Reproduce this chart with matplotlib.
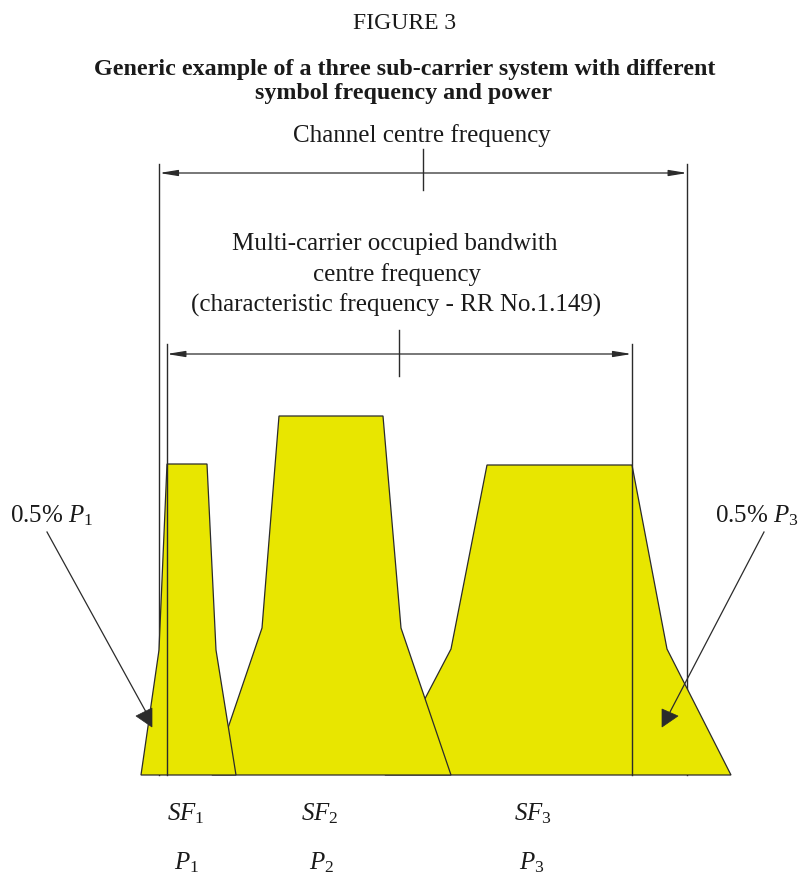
import matplotlib
matplotlib.use("Agg")
import matplotlib.pyplot as plt
from matplotlib.patches import Polygon

plt.rcParams['font.family'] = ['Liberation Serif', 'DejaVu Serif']
plt.rcParams['mathtext.fontset'] = 'custom'
plt.rcParams['mathtext.rm'] = 'Liberation Serif'
plt.rcParams['mathtext.it'] = 'Liberation Serif:italic'

# ---- diagram data (pixel-space units of the drawing) ----
baseline = 776
sf1_x = [141, 159, 167, 207, 216, 236]
sf1_y = [776, 651, 465, 465, 651, 776]
sf2_x = [212, 262, 279, 383, 401, 451]
sf2_y = [776, 629, 417, 417, 629, 776]
sf3_x = [385, 451, 487, 632, 667, 731]
sf3_y = [776, 650, 466, 466, 650, 776]

channel_edges = [159.3, 687.3]
occupied_edges = [166.7, 631.7]
channel_arrow_y = 174
occupied_arrow_y = 355

sf_labels = ['$SF_{\\mathrm{1}}$', '$SF_{\\mathrm{2}}$', '$SF_{\\mathrm{3}}$']
sf_label_x = [186, 320, 533]
p_labels = ['$P_{\\mathrm{1}}$', '$P_{\\mathrm{2}}$', '$P_{\\mathrm{3}}$']
p_label_x = [187, 322, 532]

left_pointer_x = [47, 146]
left_pointer_y = [533, 713]
left_head_x = [136, 152, 152]
left_head_y = [717, 709, 728]
right_pointer_x = [764, 670]
right_pointer_y = [533, 713]
right_head_x = [678, 662, 662]
right_head_y = [717, 710, 728]

yellow = '#e8e600'
ink = '#2b2b2b'

fig = plt.figure(figsize=(7.98, 8.78), dpi=100)
ax = fig.add_axes([0, 0, 1, 1])
ax.set_xlim(0, 798)
ax.set_ylim(878, 0)
ax.axis('off')

# channel boundary lines (behind spectra)
for x in channel_edges:
    ax.plot([x, x], [165, baseline], color=ink, lw=1.0, zorder=1)

# spectra: SF3 bottom, SF1 top
for xs, ys, z in [(sf3_x, sf3_y, 2), (sf2_x, sf2_y, 3), (sf1_x, sf1_y, 4)]:
    ax.add_patch(Polygon(list(zip(xs, ys)), closed=True, facecolor=yellow,
                         edgecolor=ink, lw=0.9, zorder=z))

# occupied bandwidth lines (on top)
for x in occupied_edges:
    ax.plot([x, x], [345, baseline], color=ink, lw=1.0, zorder=6)

# double arrows
arrow_kw = dict(arrowstyle='<|-|>,head_length=1.1,head_width=0.18',
                color=ink, lw=0.9, shrinkA=0, shrinkB=0, mutation_scale=10)
ax.annotate('', xy=(channel_edges[1], channel_arrow_y),
            xytext=(channel_edges[0], channel_arrow_y), arrowprops=arrow_kw, zorder=6)
ax.annotate('', xy=(occupied_edges[1], occupied_arrow_y),
            xytext=(occupied_edges[0], occupied_arrow_y), arrowprops=arrow_kw, zorder=6)

cc = sum(channel_edges) / 2
oc = sum(occupied_edges) / 2
ax.plot([cc, cc], [150, 191], color=ink, lw=1.0, zorder=6)
ax.plot([oc, oc], [331, 377], color=ink, lw=1.0, zorder=6)

# pointers for 0.5% labels
ax.plot(left_pointer_x, left_pointer_y, color=ink, lw=0.9, zorder=7)
ax.add_patch(Polygon(list(zip(left_head_x, left_head_y)), closed=True,
                     facecolor=ink, edgecolor=ink, lw=0.5, zorder=7))
ax.plot(right_pointer_x, right_pointer_y, color=ink, lw=0.9, zorder=7)
ax.add_patch(Polygon(list(zip(right_head_x, right_head_y)), closed=True,
                     facecolor=ink, edgecolor=ink, lw=0.5, zorder=7))

# texts
tc = '#1a1a1a'
ax.text(405, 29, 'FIGURE 3', ha='center', va='baseline', fontsize=17, color=tc)
ax.text(405, 75, 'Generic example of a three sub-carrier system with different',
        ha='center', va='baseline', fontsize=17.3, fontweight='bold', color=tc)
ax.text(404, 99, 'symbol frequency and power',
        ha='center', va='baseline', fontsize=17.3, fontweight='bold', color=tc)

ax.text(422, 142, 'Channel centre frequency', ha='center', va='baseline',
        fontsize=18, color=tc)
ax.text(395, 250, 'Multi-carrier occupied bandwith', ha='center', va='baseline',
        fontsize=18, color=tc)
ax.text(397, 281, 'centre frequency', ha='center', va='baseline',
        fontsize=18, color=tc)
ax.text(396, 312, '(characteristic frequency - RR No.1.149)', ha='center',
        va='baseline', fontsize=18, color=tc)

ax.text(10, 522, '0.5% $P_{\\mathrm{1}}$', ha='left', va='baseline', fontsize=18, color=tc)
ax.text(715, 522, '0.5% $P_{\\mathrm{3}}$', ha='left', va='baseline', fontsize=18, color=tc)

for lab, x in zip(sf_labels, sf_label_x):
    ax.text(x, 820, lab, ha='center', va='baseline', fontsize=18, color=tc)
for lab, x in zip(p_labels, p_label_x):
    ax.text(x, 869, lab, ha='center', va='baseline', fontsize=18, color=tc)

fig.savefig('out.png', dpi=100)
